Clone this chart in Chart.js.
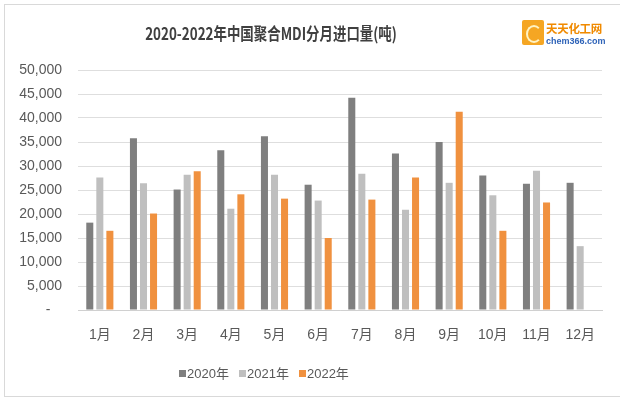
<!DOCTYPE html>
<html>
<head>
<meta charset="utf-8">
<script src="https://cdn.jsdelivr.net/npm/chart.js@4.4.0/dist/chart.umd.min.js"></script>
<style>
  html, body { margin: 0; padding: 0; background: #fff; }
  #wrap { position: relative; width: 620px; height: 399px; overflow: hidden; }
  #frame { position: absolute; left: 4px; top: 4px; width: 630px; height: 391px; border: 1px solid #d9d9d9; }
  #title { position: absolute; left: 0; width: 542px; top: 20px; text-align: center; white-space: nowrap;
           font: bold 17px "Noto Sans CJK SC", "Liberation Sans", sans-serif; color: #404040;
           transform: scaleX(0.79); transform-origin: 271px 0; }
  #logo { position: absolute; left: 522px; top: 19px; width: 86px; height: 28px; white-space: nowrap; }
  #logo .icon { position: absolute; left: 0; top: 1px; width: 22px; height: 25px; background: #f5a623;
                border-radius: 2px; }
  #logo .icon:after { content: ""; position: absolute; left: 4px; top: 5px; width: 12px; height: 14px;
                border: 2px solid #fff3c4; border-right-color: transparent; border-radius: 50%; }
  #logo .cn { position: absolute; left: 24px; top: 1px; font: bold 11.5px "Noto Sans CJK SC", sans-serif; color: #f08a00; letter-spacing: -0.3px; }
  #logo .en { position: absolute; left: 24px; top: 17px; font: bold 9px "Liberation Sans", sans-serif; color: #2e63b8; }
  #legend { position: absolute; left: 0; width: 528px; top: 363px; text-align: center;
            font: 13px "Liberation Sans", "Noto Sans CJK SC", sans-serif; color: #595959; }
  #legend span { margin: 0 5px; }
  #legend i { display: inline-block; width: 7px; height: 7px; margin-right: 1px; vertical-align: 1px; }
  canvas { position: absolute; left: 0; top: 0; }
</style>
</head>
<body>
<div id="wrap">
  <div id="frame"></div>
  <canvas id="chart" width="620" height="399"></canvas>
  <div id="title">2020-2022年中国聚合MDI分月进口量(吨)</div>
  <div id="logo"><div class="icon"></div><div class="cn">天天化工网</div><div class="en">chem366.com</div></div>
  <div id="legend"></div>
</div>
<script>
// 月份和数据
const months = ["1月", "2月", "3月", "4月", "5月", "6月", "7月", "8月", "9月", "10月", "11月", "12月"];
const seriesNames = ["2020年", "2021年", "2022年"];
const seriesColors = ["#7f7f7f", "#bfbfbf", "#f0913f"];
const data2020 = [18200, 35800, 25100, 33300, 36200, 26100, 44200, 32600, 35000, 28000, 26300, 26500];
const data2021 = [27600, 26400, 28200, 21100, 28200, 22800, 28400, 20900, 26500, 23900, 29000, 13300];
const data2022 = [16500, 20100, 28900, 24100, 23200, 15000, 23000, 27600, 41300, 16500, 22400, null];
const yTicks = [0, 5000, 10000, 15000, 20000, 25000, 30000, 35000, 40000, 45000, 50000];

const allData = [data2020, data2021, data2022];

const ctx = document.getElementById("chart").getContext("2d");
new Chart(ctx, {
    type: "bar",
    data: {
        labels: months,
        datasets: seriesNames.map((name, i) => ({
            label: name,
            data: allData[i],
            backgroundColor: seriesColors[i],
            borderWidth: 0,
            categoryPercentage: 0.69,
            barPercentage: 0.7
        }))
    },
    options: {
        responsive: false,
        animation: false,
        layout: { padding: { top: 70, right: 18, bottom: 49, left: 0 } },
        plugins: {
            legend: { display: false },
            tooltip: { enabled: false }
        },
        scales: {
            x: {
                grid: { display: false, drawTicks: false },
                border: { color: "#d0d0d0" },
                ticks: { color: "#595959", padding: 17, font: { size: 14, family: "'Liberation Sans', 'Noto Sans CJK SC'" } },
                afterFit: s => { s.height = 40; }
            },
            y: {
                min: 0,
                max: 50000,
                afterBuildTicks: s => { s.ticks = yTicks.map(v => ({ value: v })); },
                grid: { color: "#dedede", drawTicks: false },
                border: { display: false },
                ticks: {
                    color: "#595959",
                    padding: 16,
                    font: { size: 14, family: "'Liberation Sans', sans-serif" },
                    callback: v => v === 0 ? "-   " : v.toLocaleString("en-US")
                },
                afterFit: s => { s.width = 78; }
            }
        }
    }
});

// 图例
const legend = document.getElementById("legend");
seriesNames.forEach((name, i) => {
    const item = document.createElement("span");
    item.innerHTML = `<i style="background:${seriesColors[i]}"></i>${name}`;
    legend.appendChild(item);
});
</script>
</body>
</html>
